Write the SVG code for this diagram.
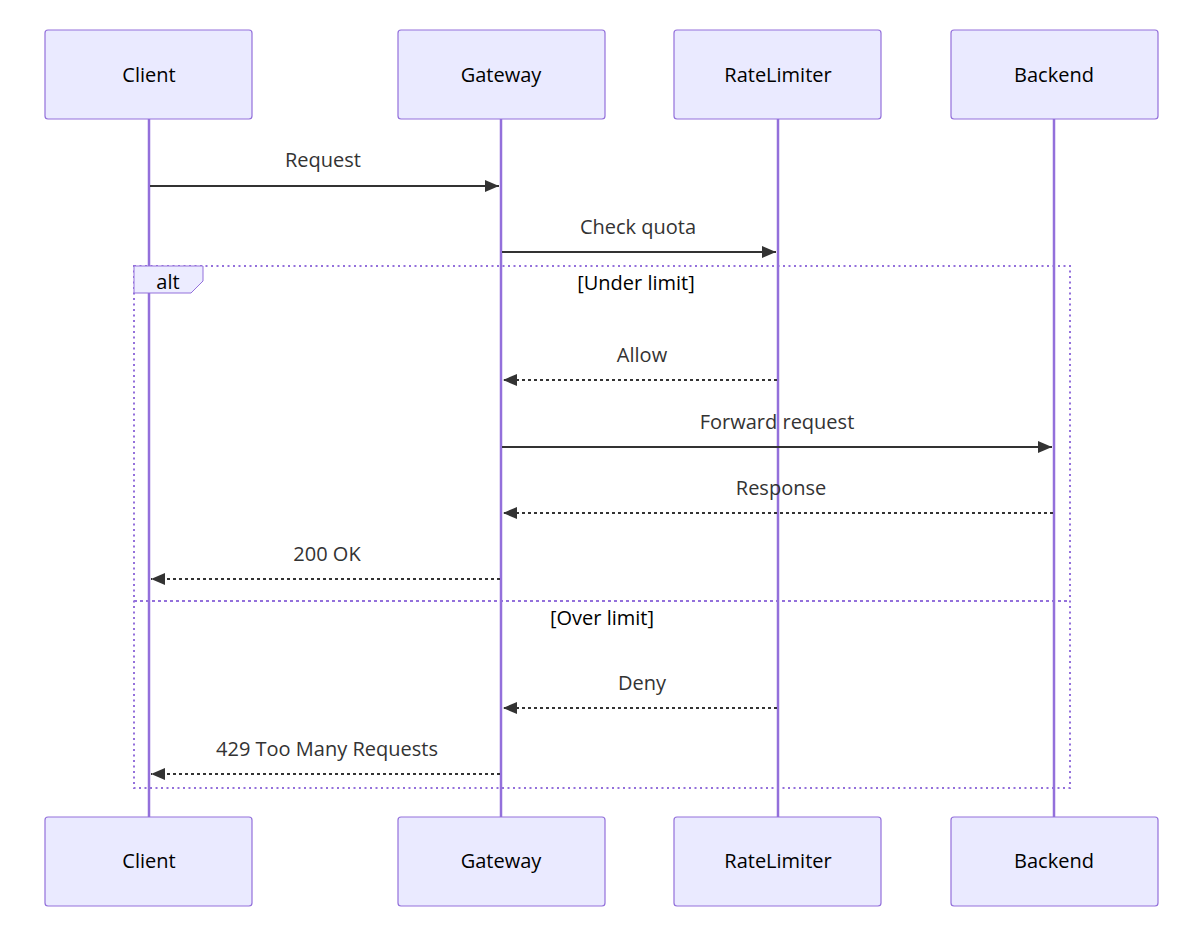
<svg xmlns="http://www.w3.org/2000/svg" width="1191" height="945" viewBox="0 0 1191 945">
<defs>
<style>
.actor{fill:#eaeaff;stroke:#9370db;stroke-width:1.2}
.atext{font-family:"Open Sans","Noto Sans",sans-serif;font-size:20px;fill:#000;text-anchor:middle;dominant-baseline:central}
.life{stroke:#9370db;stroke-width:2.5}
.msg{stroke:#333;stroke-width:2;fill:none}
.dash{stroke-dasharray:3,3}
.mtext{font-family:"Open Sans","Noto Sans",sans-serif;font-size:20px;fill:#333;text-anchor:middle;dominant-baseline:central}
.loop{stroke:#9370db;stroke-width:2;stroke-dasharray:2,3.5;fill:none}
.ltext{font-family:"Open Sans","Noto Sans",sans-serif;font-size:20px;fill:#000;text-anchor:middle;dominant-baseline:central}
</style>
<marker id="arrow" viewBox="0 0 14 12" refX="14" refY="6" markerWidth="14" markerHeight="12" markerUnits="userSpaceOnUse" orient="auto">
<path d="M0,0 L14,6 L0,12 z" fill="#333"/>
</marker>
</defs>
<rect width="1191" height="945" fill="#fff"/>
<g id="lifelines">
<line class="life" x1="149" y1="119" x2="149" y2="817"/>
<line class="life" x1="501" y1="119" x2="501" y2="817"/>
<line class="life" x1="778" y1="119" x2="778" y2="817"/>
<line class="life" x1="1054" y1="119" x2="1054" y2="817"/>
</g>
<g id="alt">
<rect class="loop" x="134" y="266" width="936" height="522"/>
<path d="M134,266 L203,266 L203,281 L191,293 L134,293 Z" fill="#ececff" stroke="#9370db" stroke-width="1"/>
<text class="ltext" x="168" y="281">alt</text>
<text class="ltext" x="636" y="282">[Under limit]</text>
<line class="loop" x1="134" y1="601" x2="1070" y2="601" style="stroke-dasharray:3,3"/>
<text class="ltext" x="602" y="617">[Over limit]</text>
</g>
<g id="connectors">
<line class="msg" x1="150" y1="186" x2="499" y2="186" marker-end="url(#arrow)"/>
<text class="mtext" x="323" y="159">Request</text>
<line class="msg" x1="502" y1="252" x2="776" y2="252" marker-end="url(#arrow)"/>
<text class="mtext" x="638" y="226">Check quota</text>
<line class="msg dash" x1="777" y1="380" x2="503" y2="380" marker-end="url(#arrow)"/>
<text class="mtext" x="642" y="354">Allow</text>
<line class="msg" x1="502" y1="447" x2="1052" y2="447" marker-end="url(#arrow)"/>
<text class="mtext" x="777" y="421">Forward request</text>
<line class="msg dash" x1="1053" y1="513" x2="503" y2="513" marker-end="url(#arrow)"/>
<text class="mtext" x="781" y="487">Response</text>
<line class="msg dash" x1="500" y1="579" x2="151" y2="579" marker-end="url(#arrow)"/>
<text class="mtext" x="327" y="553">200 OK</text>
<line class="msg dash" x1="777" y1="708" x2="503" y2="708" marker-end="url(#arrow)"/>
<text class="mtext" x="642" y="682">Deny</text>
<line class="msg dash" x1="500" y1="774" x2="151" y2="774" marker-end="url(#arrow)"/>
<text class="mtext" x="327" y="748">429 Too Many Requests</text>
</g>
<g id="client-top"><rect class="actor" x="45" y="30" width="207" height="89" rx="3"/><text class="atext" x="149" y="74">Client</text></g>
<g id="gateway-top"><rect class="actor" x="398" y="30" width="207" height="89" rx="3"/><text class="atext" x="501" y="74">Gateway</text></g>
<g id="ratelimiter-top"><rect class="actor" x="674" y="30" width="207" height="89" rx="3"/><text class="atext" x="778" y="74">RateLimiter</text></g>
<g id="backend-top"><rect class="actor" x="951" y="30" width="207" height="89" rx="3"/><text class="atext" x="1054" y="74">Backend</text></g>
<g id="client-bottom"><rect class="actor" x="45" y="817" width="207" height="89" rx="3"/><text class="atext" x="149" y="860">Client</text></g>
<g id="gateway-bottom"><rect class="actor" x="398" y="817" width="207" height="89" rx="3"/><text class="atext" x="501" y="860">Gateway</text></g>
<g id="ratelimiter-bottom"><rect class="actor" x="674" y="817" width="207" height="89" rx="3"/><text class="atext" x="778" y="860">RateLimiter</text></g>
<g id="backend-bottom"><rect class="actor" x="951" y="817" width="207" height="89" rx="3"/><text class="atext" x="1054" y="860">Backend</text></g>
</svg>
